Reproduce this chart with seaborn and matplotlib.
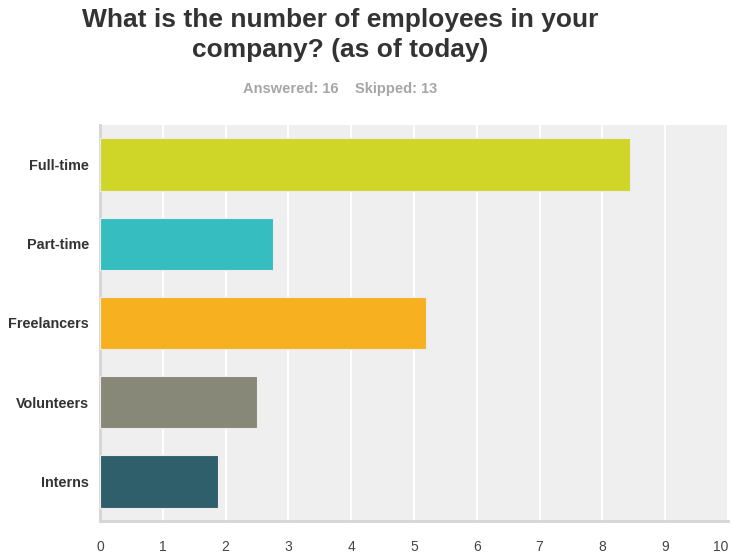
import matplotlib
matplotlib.use("Agg")
import matplotlib.pyplot as plt
import seaborn as sns
import pandas as pd

categories = ["Full-time", "Part-time", "Freelancers", "Volunteers", "Interns"]
values = [8.44, 2.75, 5.19, 2.50, 1.88]
colors = ["#CFD628", "#35BDBF", "#F7B120", "#878878", "#2F5F6A"]
x_ticks = [0, 1, 2, 3, 4, 5, 6, 7, 8, 9, 10]
title = "What is the number of employees in your\ncompany? (as of today)"
subtitle = "Answered: 16    Skipped: 13"

sns.set_theme(style="white")
plt.rcParams["font.family"] = ["Liberation Sans", "DejaVu Sans"]

df = pd.DataFrame({"category": categories, "value": values})

fig = plt.figure(figsize=(7.32, 5.57), dpi=100)
ax = fig.add_axes([100 / 732, 1 - 521 / 557, 628 / 732, 396 / 557])
ax.set_facecolor("#EFEFEF")

sns.barplot(data=df, x="value", y="category", hue="category", palette=colors,
            order=categories, hue_order=categories, legend=False, ax=ax,
            width=0.66, saturation=1, edgecolor="#ECECEC", linewidth=0.8, zorder=3)

ax.set_xlim(0, 10)
ax.set_xticks(x_ticks)
ax.set_xticklabels([str(t) for t in x_ticks], color="#444444", fontsize=10)
ax.get_xticklabels()[-1].set_horizontalalignment("right")
ax.get_xticklabels()[-1].set_x(9.97)
ax.grid(axis="x", color="white", linewidth=1.5, zorder=0)
ax.set_axisbelow(True)
ax.tick_params(axis="x", length=0, pad=14)
ax.tick_params(axis="y", length=0, pad=8)
for lbl in ax.get_yticklabels():
    lbl.set_fontweight("bold")
    lbl.set_color("#333333")
    lbl.set_fontsize(10.4)
ax.set_xlabel("")
ax.set_ylabel("")

for s in ["top", "right"]:
    ax.spines[s].set_visible(False)
ax.spines["left"].set_color("#D5D5D5")
ax.spines["left"].set_linewidth(2)
ax.spines["bottom"].set_color("#D5D5D5")
ax.spines["bottom"].set_linewidth(2)

fig.text(340 / 732, 1 - 35 / 557, title, ha="center", va="center",
         fontsize=19, fontweight="bold", color="#333333", linespacing=1.3)
fig.text(340 / 732, 1 - 89 / 557, subtitle, ha="center", va="center",
         fontsize=10.5, fontweight="bold", color="#A6A6A6")

fig.savefig("out.png", dpi=100)
